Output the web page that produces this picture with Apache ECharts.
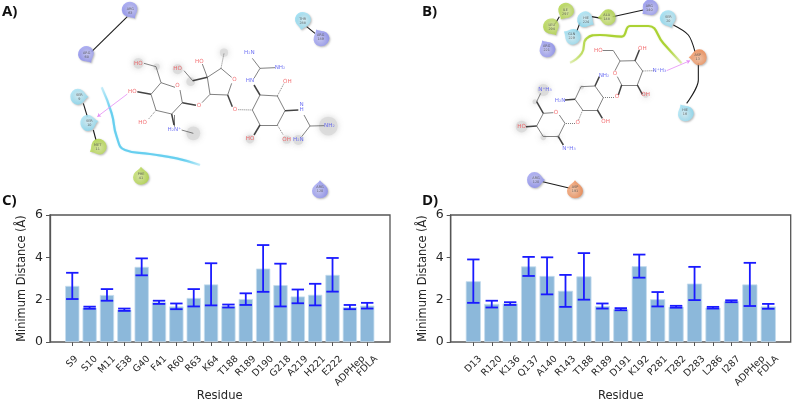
<!DOCTYPE html>
<html><head><meta charset="utf-8">
<style>html,body{margin:0;padding:0;background:#fff}#c{width:793px;height:402px;filter:blur(0.35px)}</style>
<script src="https://cdn.jsdelivr.net/npm/echarts@6/dist/echarts.min.js"></script>
</head><body><div id="c"></div>
<script>
// ---- Panel C data
const resC = ['S9','S10','M11','E38','G40','F41','R60','R63','K64','T188','R189','D190','G218','A219','H221','E222','ADPHep','FDLA'];
const valC = [2.65,1.62,2.22,1.53,3.55,1.88,1.68,2.08,2.72,1.70,2.03,3.47,2.69,2.15,2.23,3.17,1.65,1.72];
const lowC = [2.03,1.57,1.95,1.47,3.15,1.80,1.55,1.68,1.73,1.63,1.75,2.37,1.68,1.83,1.73,2.38,1.55,1.58];
const highC= [3.27,1.67,2.50,1.58,3.95,1.95,1.82,2.50,3.72,1.77,2.30,4.58,3.70,2.48,2.75,3.97,1.75,1.85];
// ---- Panel D data
const resD = ['D13','R120','K136','Q137','A140','R143','T188','R189','D191','K192','P281','T282','D283','L286','I287','ADPHep','FDLA'];
const valD = [2.87,1.80,1.82,3.57,3.12,2.42,3.10,1.70,1.55,3.58,2.02,1.67,2.76,1.62,1.93,2.72,1.68];
const lowD = [1.85,1.63,1.75,3.12,2.25,1.66,2.00,1.58,1.50,3.04,1.68,1.62,1.98,1.58,1.88,1.70,1.57];
const highD= [3.90,1.95,1.88,4.02,4.00,3.17,4.20,1.82,1.60,4.13,2.36,1.71,3.55,1.66,1.97,3.74,1.80];
const yTicks = [0,2,4,6];

// ---- Interaction diagram A (schematic space: 1200 x 585)
const bondsA = [[483,248,525,262],[540,270,547,308],[547,308,515,342],[515,342,468,331],[468,331,453,283],[453,283,483,248],[483,248,468,200],[468,200,432,190],[522,345,522,380],[545,390,580,400],[606,308,630,283],[630,283,683,285],[683,285,695,250],[695,232,663,205],[663,205,622,232],[622,232,630,283],[552,212,578,242],[622,232,607,192],[757,330,780,285],[780,285,832,288],[832,288,855,332],[855,332,832,375],[832,375,780,375],[780,375,757,330],[762,235,780,205],[780,205,757,175],[780,205,825,203],[912,345,930,378],[930,378,973,377],[930,378,905,410]];
const wedgesA = [[453,283,412,275],[547,308,588,316],[622,232,578,242],[683,285,697,320],[780,285,762,255],[855,332,895,330],[780,375,762,405],[515,342,522,375]];
const dashesA = [[468,331,445,358],[663,205,672,160],[715,329,757,330],[832,288,852,250],[832,375,850,405]];
const atomsA = [['HO',415,190,'r'],['HO',397,274,'r'],['HO',428,368,'r'],['H\u2082N\u207a',523,390,'b'],['O',532,258,'r'],['O',597,316,'r'],['HO',533,207,'r'],['HO',598,184,'r'],['O',703,240,'r'],['O',705,329,'r'],['HN',750,243,'b'],['H\u2082N',748,158,'b'],['NH\u2082',840,203,'b'],['OH',862,244,'r'],['N',905,315,'b'],['H',905,330,'b'],['NH\u2082',988,377,'b'],['H\u2082N',895,420,'b'],['HO',750,417,'r'],['OH',860,419,'r']];
const halosA = [[415,190,34],[470,200,20],[533,208,32],[572,245,28],[672,158,26],[580,400,44],[750,417,28],[860,419,26],[985,378,60],[895,420,32]];
const residuesA = [['ARG\n63',391,32,'b',-150],['ARG\n60',260,165,'b',-150],['SER\n9',238,290,'c',-90],['SER\n10',268,368,'c',-80],['MET\n11',293,442,'g',120],['PHE\n41',423,527,'g',0],['THR\n288',908,63,'c',170],['ARG\n189',962,112,'b',30],['ARG\n120',960,568,'b',0]];
const linksA = [[[382,50],[275,155]],[[250,310],[262,350]],[[280,390],[288,420]],[[920,80],[945,100]]];
const hbondsA = [[382,282,292,350]];
const ribbonA = [[305,262],[335,340],[350,410],[375,450],[450,462],[530,475],[600,495]];

// ---- Interaction diagram B (schematic space: 1179 x 585)
const bondsB = [[660,183,705,182],[705,182,728,213],[728,213,712,255],[712,255,665,255],[665,255,652,230],[645,212,660,183],[660,183,640,152],[640,152,608,152],[610,293,585,258],[585,258,543,260],[543,260,525,298],[525,298,548,330],[548,330,592,330],[592,330,610,293],[495,370,478,345],[460,338,430,340],[430,340,410,378],[410,378,430,410],[430,410,475,410],[475,410,495,370],[410,305,422,280]];
const wedgesB = [[705,182,718,150],[712,255,727,283],[665,255,655,285],[585,258,598,230],[525,298,495,300],[592,330,607,355],[410,378,378,380],[475,410,490,435],[410,305,430,340]];
const dashesB = [[728,213,762,212],[642,292,610,293],[548,330,535,362],[525,370,495,370]];
const atomsB = [['HO',595,152,'r'],['OH',727,145,'r'],['N\u207aH\u2083',778,212,'b'],['OH',737,285,'r'],['O',645,220,'r'],['O',651,291,'r'],['NH\u2082',612,226,'b'],['H\u2082N',480,301,'b'],['OH',617,364,'r'],['O',533,369,'r'],['O',468,337,'r'],['N\u207aH\u2083',435,270,'b'],['HO',365,380,'r'],['N\u207aH\u2083',507,445,'b']];
const halosB = [[430,270,38],[405,305,16],[545,262,14],[365,380,38],[430,412,18],[475,410,12],[737,285,18]];
const residuesB = [['ILE\n297',496,35,'g',150],['LEU\n294',455,82,'g',-150],['HIE\n224',558,60,'c',-120],['GLN\n229',515,108,'c',60],['ALA\n148',620,52,'g',90],['ARG\n140',748,25,'b',130],['SER\n20',805,58,'c',-160],['ARG\n221',440,145,'b',30],['ASP\n13',893,172,'o',90],['HIE\n16',855,337,'c',30],['ARG\n120',408,540,'b',-90],['ASP\n191',525,568,'o',0]];
const linksB = [[[478,50],[465,72]],[[540,68],[530,95]],[[575,50],[605,55]],[[638,50],[730,30]],[[820,75],[865,105],[885,155]],[[895,190],[895,240],[860,310]],[[428,545],[510,565]]];
const hbondsB = [[800,212,870,182]];
const ribbonB = [[510,188],[545,160],[560,115],[600,105],[665,110],[690,78],[745,78],[790,130],[845,190]];

const atomColor = {r:'#f0484c', b:'#4a4ef0'};
const resColor = {b:['#c8c9fb','#7f82ee'], c:['#d8f4fc','#7dd7f2'], g:['#dcee9c','#a6d02e'], o:['#fbc6a4','#ee7a3a']};
const FONT = '"DejaVu Sans"';
const TXT = '#262626', FRAME = '#555555', BAR = '#8cb8da', ERR = '#1a1aff';
const DROP = 'path://M50 0 C58 14 70 20 82 32 A45 45 0 1 1 18 32 C30 20 42 14 50 0 Z';
const XFS = 9.5;
const measure = document.createElement('canvas').getContext('2d');

// axis labels are centred under their tick in a rotated box; shift is derived from text length
function catData(names){
  measure.font = XFS + 'px ' + FONT;
  return names.map(n=>{
    const w = measure.measureText(n).width;
    const p = (w + XFS) / 2;
    return {value:n, textStyle:{align:'center',verticalAlign:'top',lineHeight:p,padding:[0,p,0,0]}};
  });
}

const grids=[], xAxes=[], yAxes=[], series=[];
function addChart(names, vals, lows, highs, left, innerLeft, innerWidth){
  const outer = grids.length, inner = outer+1;
  grids.push({left, top:215, width:340, height:127, show:true, borderColor:FRAME, borderWidth:1.3, backgroundColor:'transparent', outerBoundsMode:'none'});
  grids.push({left:innerLeft, top:215, width:innerWidth, height:127, outerBoundsMode:'none'});
  xAxes.push({gridIndex:outer, type:'value', min:0, max:1, show:false});
  yAxes.push({gridIndex:outer, type:'value', min:yTicks[0], max:yTicks[3], interval:2, splitLine:{show:false},
    name:'Minimum Distance (\u00c5)', nameLocation:'middle', nameGap:22, nameMoveOverlap:false, nameTextStyle:{fontFamily:FONT,fontSize:11.4,color:TXT},
    axisLine:{show:true,lineStyle:{color:FRAME,width:1.3}}, axisTick:{show:true,length:4,lineStyle:{color:FRAME}},
    axisLabel:{fontFamily:FONT,fontSize:12.5,color:TXT,margin:7}});
  xAxes.push({gridIndex:inner, type:'category', data:catData(names), boundaryGap:true,
    name:'Residue', nameLocation:'middle', nameGap:48, nameMoveOverlap:false, nameTextStyle:{fontFamily:FONT,fontSize:11.6,color:TXT},
    axisLine:{show:false}, axisTick:{show:true,alignWithLabel:true,length:4,lineStyle:{color:FRAME}},
    axisLabel:{interval:0,rotate:45,align:'center',verticalAlign:'top',margin:12,fontFamily:FONT,fontSize:XFS,color:TXT,hideOverlap:false}});
  yAxes.push({gridIndex:inner, type:'value', min:0, max:6, show:false});
  series.push({type:'bar', xAxisIndex:inner, yAxisIndex:inner, data:vals, barWidth:'82%', itemStyle:{color:BAR,borderColor:'#c4dcee',borderWidth:0.8}, silent:true, animation:false});
  series.push({type:'custom', xAxisIndex:inner, yAxisIndex:inner, animation:false, silent:true, z:5,
    data:names.map((n,i)=>[i,lows[i],highs[i]]), encode:{x:0,y:[1,2]},
    renderItem:(p,api)=>{
      const a=api.coord([api.value(0),api.value(1)]), b=api.coord([api.value(0),api.value(2)]);
      const st={stroke:ERR,lineWidth:1.8,fill:null}, c=6.2;
      return {type:'group',children:[
        {type:'line',shape:{x1:a[0],y1:a[1],x2:b[0],y2:b[1]},style:st},
        {type:'line',shape:{x1:a[0]-c,y1:a[1],x2:a[0]+c,y2:a[1]},style:st},
        {type:'line',shape:{x1:b[0]-c,y1:b[1],x2:b[0]+c,y2:b[1]},style:st}]};
    }});
}
addChart(resC,valC,lowC,highC,50,63.6,312.3);
addChart(resD,valD,lowD,highD,450.7,464.1,313.4);

function addDiagram(d, left, width){
  const g = grids.length;
  grids.push({left, top:0, width, height:195, outerBoundsMode:'none'});
  xAxes.push({gridIndex:g,type:'value',min:0,max:width*3,show:false});
  yAxes.push({gridIndex:g,type:'value',min:0,max:585,inverse:true,show:false});
  const ax={xAxisIndex:g,yAxisIndex:g,animation:false,silent:true};
  const seg=(arr,color,width,type,z)=>({...ax,type:'lines',coordinateSystem:'cartesian2d',polyline:false,z,
    lineStyle:{color,width,type:type||'solid',opacity:0.85},
    data:arr.map(s=>({coords:[[s[0],s[1]],[s[2],s[3]]]}))});
  // halos
  series.push({...ax,type:'scatter',z:1,data:d.halos.map(h=>({value:[h[0],h[1]],symbolSize:h[2]/3.2})),
    itemStyle:{color:'#dadada',shadowBlur:6,shadowColor:'#d0d0d0',opacity:0.9}});
  // ribbon
  series.push({...ax,type:'line',z:2,smooth:0.5,showSymbol:false,data:d.ribbon,
    lineStyle:{width:2.2,shadowBlur:1.5,shadowColor:d.ribbonColor+'66',
      color:{type:'linear',x:d.grad[0],y:d.grad[1],x2:d.grad[2],y2:d.grad[3],colorStops:[
        {offset:0,color:d.ribbonColor+'33'},{offset:0.2,color:d.ribbonColor},{offset:0.85,color:d.ribbonColor},{offset:1,color:d.ribbonColor+'33'}]}}});
  // bonds
  series.push(seg(d.bonds,'#5a5a5a',0.9,null,3));
  series.push(seg(d.wedges,'#222',1.5,null,3));
  series.push(seg(d.dashes,'#666',1,'dotted',3));
  // links
  d.links.forEach(l=>series.push({...ax,type:'line',z:3,smooth:0.3,showSymbol:false,data:l,lineStyle:{width:1.1,color:'#1c1c1c'}}));
  // h-bonds
  series.push({...ax,type:'lines',coordinateSystem:'cartesian2d',z:4,
    lineStyle:{color:'#e58cf5',width:0.8,opacity:1},
    symbol:['none','arrow'],symbolSize:3.5,
    data:d.hbonds.map(s=>({coords:[[s[0],s[1]],[s[2],s[3]]]}))});
  // residues
  series.push({...ax,type:'scatter',z:6,symbol:DROP,symbolSize:[16,18],
    data:d.residues.map(r=>({value:[r[1],r[2]],name:r[0],symbolRotate:r[4],
      itemStyle:{color:{type:'radial',x:0.42,y:0.55,r:0.65,colorStops:[{offset:0,color:resColor[r[3]][0]},{offset:1,color:resColor[r[3]][1]}]}}})),
    itemStyle:{shadowBlur:2,shadowColor:'rgba(90,90,90,0.5)',shadowOffsetX:1,shadowOffsetY:1},
    label:{show:true,position:'inside',formatter:p=>p.name,fontSize:3.4,lineHeight:4,color:'#444',fontFamily:FONT}});
  // atoms
  series.push({...ax,type:'scatter',z:7,symbolSize:1,itemStyle:{color:'transparent'},
    data:d.atoms.map(a=>({value:[a[1],a[2]],name:a[0],label:{color:atomColor[a[3]]}})),
    label:{show:true,position:'inside',formatter:p=>p.name,fontSize:5.6,fontFamily:FONT}});
}
addDiagram({bonds:bondsA,wedges:wedgesA,dashes:dashesA,atoms:atomsA,halos:halosA,residues:residuesA,links:linksA,hbonds:hbondsA,ribbon:ribbonA,ribbonColor:'#67cfef',grad:[0,0,1,1]},0,400);
addDiagram({bonds:bondsB,wedges:wedgesB,dashes:dashesB,atoms:atomsB,halos:halosB,residues:residuesB,links:linksB,hbonds:hbondsB,ribbon:ribbonB,ribbonColor:'#abd233',grad:[0,0,1,0]},400,393);

const panelLabels=[['A)',2,4],['B)',422,4],['C)',2,193],['D)',422,193]];
const chart=echarts.init(document.getElementById('c'),null,{renderer:'canvas'});
chart.setOption({animation:false,backgroundColor:'#fff',grid:grids,xAxis:xAxes,yAxis:yAxes,series,
  graphic:panelLabels.map(l=>({type:'text',left:l[1],top:l[2],style:{text:l[0],font:'bold 15px "Open Sans"',fill:'#111'}}))});
</script></body></html>
